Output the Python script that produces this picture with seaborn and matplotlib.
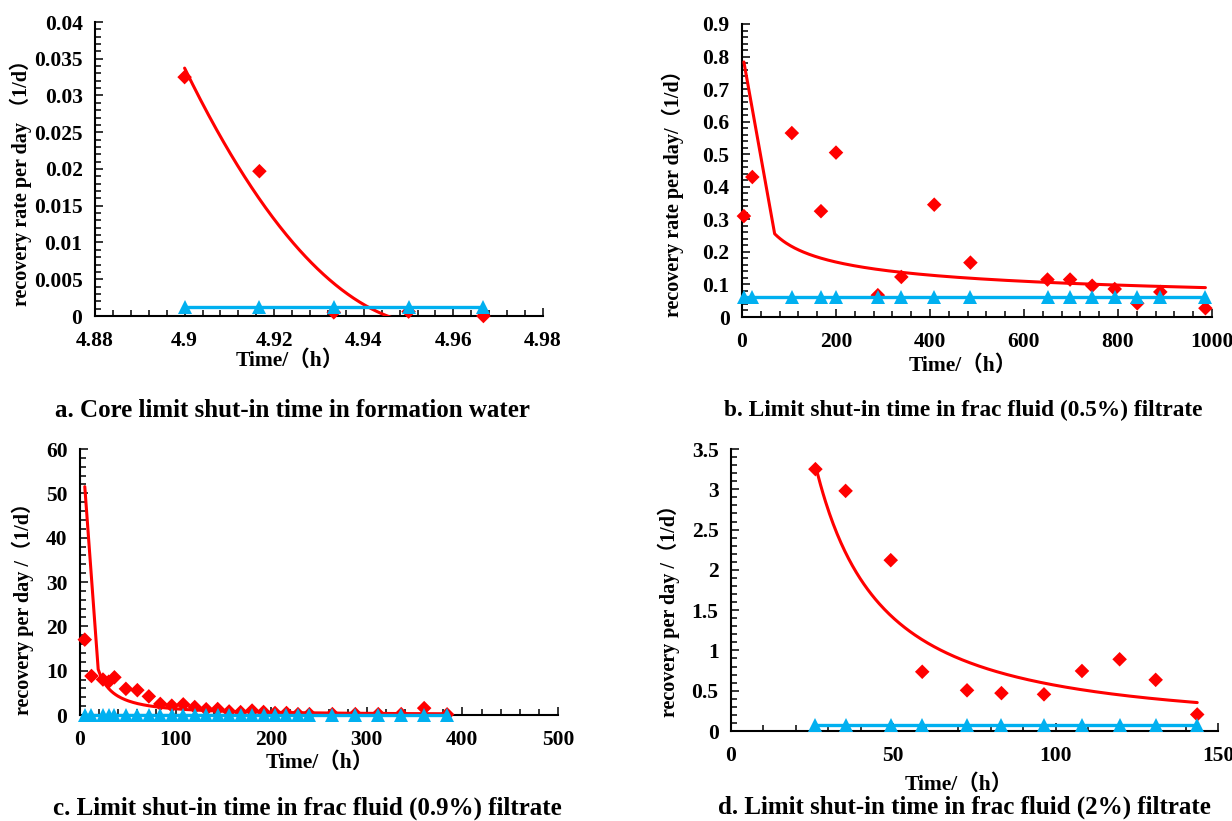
import numpy as np
import matplotlib
matplotlib.use("Agg")
import matplotlib.pyplot as plt
from matplotlib.ticker import FixedLocator, AutoMinorLocator, FuncFormatter
import seaborn as sns

# ---- data -----------------------------------------------------------------
# a. core in formation water
a_time = [4.9, 4.9167, 4.9333, 4.95, 4.9667]
a_rate = [0.0325, 0.0197, 0.0005, 0.0006, 0.0]
a_base = 0.0012

# b. frac fluid (0.5%) filtrate
b_time = [4, 22, 106, 168, 200, 289, 339, 409, 486, 650, 698, 745, 793, 841, 890, 986]
b_rate = [0.31, 0.43, 0.565, 0.325, 0.505, 0.067, 0.123, 0.345, 0.167, 0.115, 0.115,
          0.096, 0.086, 0.042, 0.077, 0.027]
b_base = 0.06

# c. frac fluid (0.9%) filtrate
c_time = [5, 12, 24, 30, 36, 48, 60, 72, 84, 96, 108, 120, 132, 144, 156, 168, 180,
          192, 204, 216, 228, 240, 264, 288, 312, 336, 360, 384]
c_rate = [17.0, 8.8, 8.0, 7.5, 8.5, 5.9, 5.6, 4.2, 2.5, 2.1, 2.4, 1.8, 1.3, 1.35,
          0.8, 0.65, 1.0, 0.68, 0.45, 0.45, 0.2, 0.2, 0.2, 0.2, 0.2, 0.2, 1.55, 0.15]
c_base = 0.06

# d. frac fluid (2%) filtrate
d_time = [26, 35.3, 49.2, 58.9, 72.7, 83.3, 96.4, 108.1, 119.7, 130.8, 143.6]
d_rate = [3.25, 2.98, 2.12, 0.735, 0.505, 0.47, 0.455, 0.745, 0.89, 0.635, 0.205]
d_base = 0.07

# axis ticks
a_xticks = [4.88, 4.90, 4.92, 4.94, 4.96, 4.98]
a_yticks = [0, 0.005, 0.01, 0.015, 0.02, 0.025, 0.03, 0.035, 0.04]
b_xticks = [0, 200, 400, 600, 800, 1000]
b_yticks = [0, 0.1, 0.2, 0.3, 0.4, 0.5, 0.6, 0.7, 0.8, 0.9]
c_xticks = [0, 100, 200, 300, 400, 500]
c_yticks = [0, 10, 20, 30, 40, 50, 60]
d_xticks = [0, 50, 100, 150]
d_yticks = [0, 0.5, 1, 1.5, 2, 2.5, 3, 3.5]

captions = [
    "a. Core limit shut-in time in formation water",
    "b. Limit shut-in time in frac fluid (0.5%) filtrate",
    "c. Limit shut-in time in frac fluid (0.9%) filtrate",
    "d. Limit shut-in time in frac fluid (2%) filtrate",
]
ylabels = [
    "recovery rate per day \uff081/d\uff09",
    "recovery rate per day/\uff081/d\uff09",
    "recovery per day /\uff081/d\uff09",
    "recovery per day /\uff081/d\uff09",
]
xlabel = "Time/\uff08h\uff09"

RED = "#FF0000"
BLUE = "#00B0F0"

sns.set_style("ticks")
plt.rcParams["font.family"] = ["Liberation Serif", "Noto Sans CJK SC"]
plt.rcParams["font.weight"] = "bold"
plt.rcParams["text.color"] = "black"
plt.rcParams["axes.labelcolor"] = "black"
plt.rcParams["xtick.color"] = "black"
plt.rcParams["ytick.color"] = "black"

W, H = 1232, 821
fig = plt.figure(figsize=(W / 100, H / 100), dpi=100)


def px_axes(x0, x1, top, bot):
    return fig.add_axes([x0 / W, 1 - bot / H, (x1 - x0) / W, (bot - top) / H])


def quad_trend(t, y):
    p = np.polynomial.Polynomial.fit(t, y, 2)
    xs = np.linspace(min(t), max(t), 300)
    return xs, p(xs)


def power_trend(t, y, coarse_start=True):
    # least-squares power law y = a * t**b, fitted in log-log space;
    # optionally the first span is drawn as one straight step
    t = np.asarray(t, float)
    y = np.asarray(y, float)
    slope, intercept = np.polyfit(np.log(t), np.log(y), 1)
    if coarse_start:
        step = (t.max() - t.min()) / (len(t) - 1)
        xs = np.concatenate([[t.min()],
                             np.linspace(t.min() + step, t.max(), 300)])
    else:
        xs = np.linspace(t.min(), t.max(), 300)
    return xs, np.exp(intercept) * xs ** slope


fmt = FuncFormatter(lambda v, _: f"{round(v, 6):g}")


def draw(ax, t, rate, base, trend, xlim, ylim, xticks, yticks, ylab,
         ylab_pos, xlab_pos):
    tx, ty = trend
    sns.lineplot(x=tx, y=ty, ax=ax, color=RED, linewidth=2.2, sort=False,
                 errorbar=None, zorder=3)
    sns.scatterplot(x=t, y=rate, ax=ax, marker="D", s=55, color=RED,
                    edgecolor="none", linewidth=0, zorder=4, clip_on=False)
    sns.lineplot(x=t, y=[base] * len(t), ax=ax, color=BLUE, linewidth=2.4,
                 marker="^", markersize=9.5, markeredgewidth=0, errorbar=None,
                 zorder=5, clip_on=False)
    ax.set_xlim(*xlim)
    ax.set_ylim(*ylim)
    ax.xaxis.set_major_locator(FixedLocator(xticks))
    ax.yaxis.set_major_locator(FixedLocator(yticks))
    ax.xaxis.set_minor_locator(AutoMinorLocator(5))
    ax.yaxis.set_minor_locator(AutoMinorLocator(5))
    ax.xaxis.set_major_formatter(fmt)
    ax.yaxis.set_major_formatter(fmt)
    for side in ("top", "right"):
        ax.spines[side].set_visible(False)
    for side in ("left", "bottom"):
        ax.spines[side].set_color("black")
        ax.spines[side].set_linewidth(1.5)
    ax.tick_params(which="both", direction="in", color="black", width=1.1,
                   bottom=True, left=True, top=False, right=False)
    ax.tick_params(which="major", length=6)
    ax.tick_params(which="minor", length=4.3)
    ax.tick_params(axis="y", which="major", pad=9, labelsize=15.5,
                   labelcolor="black")
    ax.tick_params(axis="x", which="major", pad=11, labelsize=15.5,
                   labelcolor="black")
    for lab in ax.get_xticklabels() + ax.get_yticklabels():
        lab.set_fontweight("bold")
    ax.set_xlabel(xlabel, fontsize=15.5, fontweight="bold")
    ax.set_ylabel(ylab, fontsize=14.5, fontweight="bold")
    ax.xaxis.label.set_va("center")
    ax.yaxis.label.set_va("center")
    ax.xaxis.set_label_coords(*xlab_pos)
    ax.yaxis.set_label_coords(*ylab_pos)
    ax.grid(False)


ax_a = px_axes(95, 543, 22, 316)
draw(ax_a, a_time, a_rate, a_base, quad_trend(a_time, a_rate),
     (4.88, 4.98), (0, 0.04), a_xticks, a_yticks, ylabels[0],
     (-0.165, 0.47), (0.434, -0.15))

ax_b = px_axes(742, 1212, 24, 317)
draw(ax_b, b_time, b_rate, b_base, power_trend(b_time, b_rate),
     (0, 1000), (0, 0.9), b_xticks, b_yticks, ylabels[1],
     (-0.147, 0.437), (0.47, -0.166))

ax_c = px_axes(80, 558, 449, 715)
draw(ax_c, c_time, c_rate, c_base, power_trend(c_time, c_rate),
     (0, 500), (0, 60), c_xticks, c_yticks, ylabels[2],
     (-0.119, 0.417), (0.502, -0.18))

ax_d = px_axes(731, 1218, 449, 731)
draw(ax_d, d_time, d_rate, d_base,
     power_trend(d_time, d_rate, coarse_start=False),
     (0, 150), (0, 3.5), d_xticks, d_yticks, ylabels[3],
     (-0.128, 0.443), (0.468, -0.19))

cap_specs = [((292, 410), 18), ((963, 410), 16.8), ((307, 808), 18), ((964, 807), 18)]
for ((cx, cy), size), text in zip(cap_specs, captions):
    fig.text(cx / W, 1 - cy / H, text, ha="center", va="center",
             fontsize=size, fontweight="bold")

fig.savefig("out.png", dpi=100, facecolor="white")
